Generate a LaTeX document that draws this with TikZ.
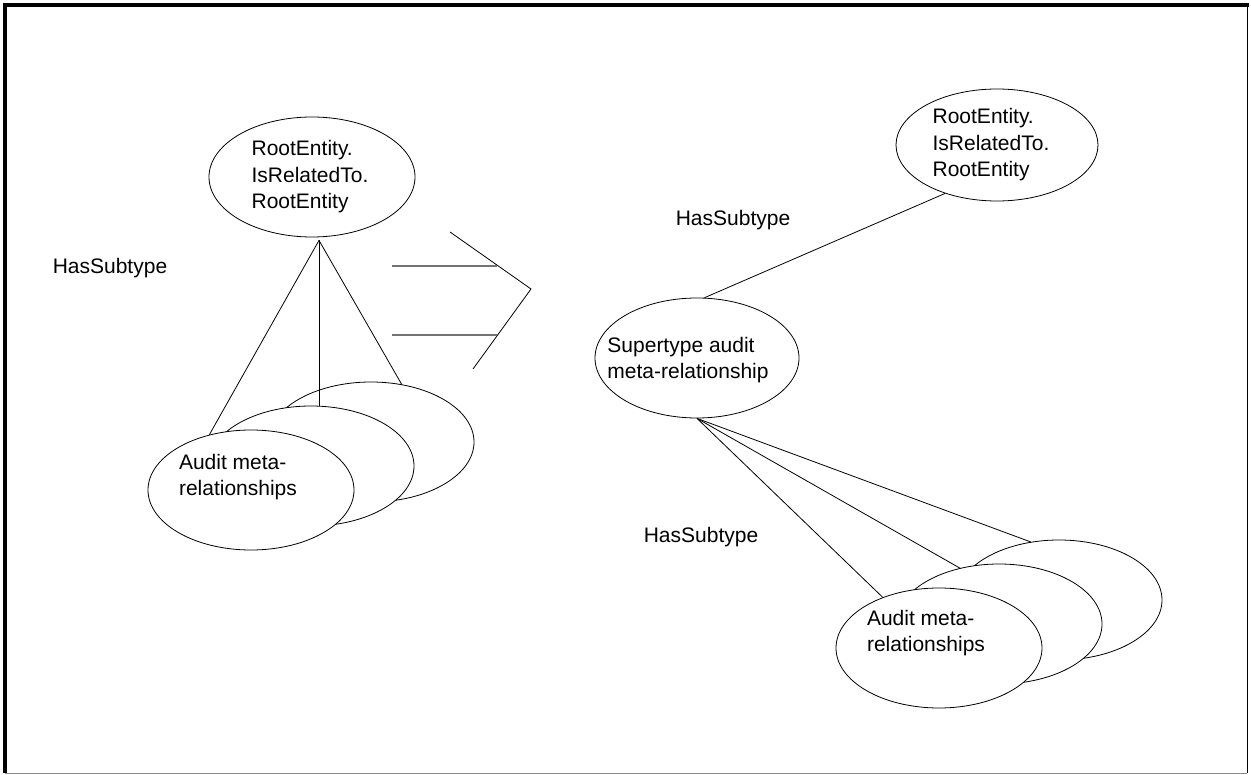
\documentclass[tikz,border=0pt]{standalone}
\usepackage{fontspec}
\setmainfont{Liberation Sans}
\usetikzlibrary{shapes.geometric}

\tikzset{
  ent/.style={draw, ellipse, fill=white, minimum width=206pt, minimum height=120pt, inner sep=0pt},
  txt/.style={font=\fontsize{21}{26.5}\selectfont, align=left, inner sep=0pt},
  shaft/.style={black!55, line width=1.3pt}
}

\begin{document}
\begin{tikzpicture}[x=1pt, y=-1pt, line width=0.8pt]
  \useasboundingbox (0,0) rectangle (1251,775);
  %外框
  \draw[black!45] (5,773) -- (1247,773);
  \draw (1247,5) -- (1247,773);
  \draw[line width=4pt] (3,5) -- (1249,5);
  \draw[line width=4pt] (5,3) -- (5,773);
  %左侧顶部实体
  \node[ent, label={[txt, xshift=-2pt]center:RootEntity.\\IsRelatedTo.\\RootEntity}] (lt) at (312,177) {};
  \coordinate (apex) at ([xshift=7pt, yshift=-3pt]lt.south);
  %左侧层叠的椭圆
  \node[ent] (lb) at (371,442) {};
  \node[ent] (lm) at (311,466) {};
  \node[ent, label={[txt, xshift=-13pt, yshift=13pt]center:Audit meta-\\relationships}] (lf) at (251,490) {};
  \draw (apex) -- (lf.127);
  \draw (apex) -- (apex |- lm.north);
  \draw (apex) -- (lb.62);
  \node[txt] (hs1) at (110,268) {HasSubtype};
  %中间的空心箭头
  \draw (450,232) -- (531,289) -- (473,369);
  \draw[shaft] (392,266) -- (497,266);
  \draw[shaft] (392,335) -- (497,335);
  %右侧实体
  \node[ent, minimum width=202pt, minimum height=112pt, label={[txt, xshift=-6pt]center:RootEntity.\\IsRelatedTo.\\RootEntity}] (rt) at (997,145) {};
  \node[ent, minimum width=204pt, label={[txt, xshift=-9pt, yshift=-2pt]center:Supertype audit\\meta-relationship}] (sup) at (697,358) {};
  \draw (rt.223) -- (sup.83);
  \node[txt] (hs2) at (733,220) {HasSubtype};
  %右侧层叠的椭圆
  \node[ent] (rb) at (1059,600) {};
  \node[ent] (rm) at (999,624) {};
  \node[ent, label={[txt, xshift=-13pt, yshift=15pt]center:Audit meta-\\relationships}] (rf) at (939,648) {};
  \draw (sup.south) -- (rf.138);
  \draw (sup.south) -- (rm.125);
  \draw (sup.south) -- (rb.116);
  \node[txt] (hs3) at (701,537) {HasSubtype};
\end{tikzpicture}
\end{document}
